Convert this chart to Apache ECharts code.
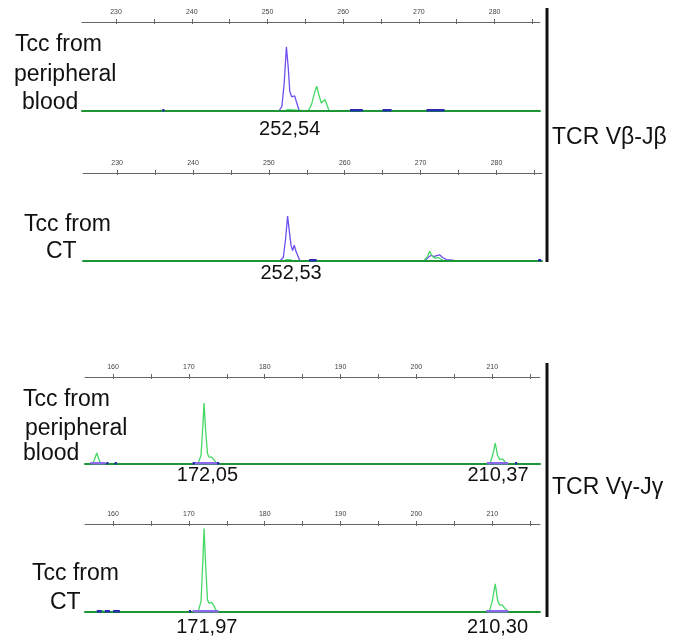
<!DOCTYPE html>
<html><head><meta charset="utf-8">
<script src="https://cdn.jsdelivr.net/npm/echarts@6/dist/echarts.min.js"></script>
<style>html,body{margin:0;padding:0;background:#fff}#c{width:686px;height:642px}</style>
</head><body><div id="c"></div>
<script>
// ---------- axis definitions (fragment size, bp) ----------
const betaRange = [225.5, 286];
const betaTicks = [230, 235, 240, 245, 250, 255, 260, 265, 270, 275, 280, 285];
const betaLabels = [230, 240, 250, 260, 270, 280];
const gammaRange = [156.3, 216.3];
const gammaTicks = [160, 165, 170, 175, 180, 185, 190, 195, 200, 205, 210, 215];
const gammaLabels = [160, 170, 180, 190, 200, 210];

// ---------- traces: [size, relative intensity %] ----------
// Panel 1: TCR Vβ-Jβ, Tcc from peripheral blood
const p1Green = [[252.2,0],[252.4,1.5],[252.7,1.5],[252.9,0],[255.4,0],[255.85,8],[256.2,20],[256.5,28],[256.8,18],[257.1,9],[257.35,10],[257.6,13],[257.85,7],[258.15,0],[271.3,0],[271.6,1.5],[272.0,0]];
const p1Blue = [[251.5,0],[251.9,5],[252.2,30],[252.5,72],[252.75,48],[252.95,22],[253.2,16],[253.4,18],[253.6,17],[253.8,11],[254.2,0]];
const p1Navy = [[236.1,236.4],[260.9,262.6],[265.2,266.4],[271.0,273.4]];
const p1Purple = [];
const p1Peaks = [[252.54, '252,54']];
const p1Text = ['Tcc from', 'peripheral', 'blood'];

// Panel 2: TCR Vβ-Jβ, Tcc from CT
const p2Green = [[252.0,0],[252.3,1.5],[252.8,1.5],[253.2,0],[270.4,0],[270.9,5],[271.2,11],[271.5,6],[271.9,3],[272.3,4],[272.7,2],[273.1,0]];
const p2Blue = [[251.45,0],[251.9,4],[252.2,25],[252.47,51],[252.72,32],[252.92,18],[253.13,12],[253.35,18],[253.57,11],[254.1,0],[270.5,0],[271.0,4],[271.4,6.5],[271.75,5],[272.1,6],[272.5,7],[272.9,4],[273.4,1.5],[274.0,1.2],[274.7,0]];
const p2Navy = [[255.3,256.3],[285.5,285.9]];
const p2Purple = [];
const p2Peaks = [[252.53, '252,53']];
const p2Text = ['Tcc from', 'CT'];

// Panel 3: TCR Vγ-Jγ, Tcc from peripheral blood
const p3Green = [[157.2,0],[157.5,4],[157.85,12.6],[158.1,6],[158.4,0],[171.2,0],[171.6,10],[171.85,45],[172.0,70],[172.2,40],[172.45,12],[172.65,8],[173.0,8],[173.3,5],[173.7,0],[209.7,0],[210.05,10],[210.4,24],[210.7,10],[211.0,5],[211.4,5.5],[211.9,0]];
const p3Blue = [];
const p3Navy = [[159.1,159.4],[160.2,160.5],[170.5,170.8],[173.7,174.0],[213.0,213.3]];
const p3Purple = [[157.0,159.0],[170.6,173.9],[209.3,212.1]];
const p3Peaks = [[172.05, '172,05'], [210.37, '210,37']];
const p3Text = ['Tcc from', 'peripheral', 'blood'];

// Panel 4: TCR Vγ-Jγ, Tcc from CT
const p4Green = [[158.3,0],[158.6,1.5],[158.9,0],[171.2,0],[171.6,12],[171.85,60],[172.0,95],[172.2,55],[172.45,14],[172.65,10],[173.0,11],[173.3,7],[173.7,0],[209.6,0],[210.0,12],[210.4,32],[210.7,14],[210.95,8],[211.3,8],[211.6,5],[212.15,0]];
const p4Blue = [];
const p4Navy = [[157.85,158.5],[158.9,159.6],[160.0,160.9],[170.0,170.3]];
const p4Purple = [[170.5,173.9],[209.2,212.1]];
const p4Peaks = [[171.97, '171,97'], [210.30, '210,30']];
const p4Text = ['Tcc from', 'CT'];

const groupTitles = ['TCR Vβ-Jβ', 'TCR Vγ-Jγ'];

// ---------- layout / style ----------
const FONT = '"Liberation Sans", Arial, sans-serif';
const GREEN = '#45d865', BLUE = '#6e4ef0', NAVY = '#2a2ab0', PURPLE = '#8a6ae8', BASE = '#1f9636';
const layout = [
  {left: 82, top: 22, width: 458, height: 89, peakDy: 18, text: [[15, 45], [14, 75], [22, 103]]},
  {left: 83, top: 173, width: 459, height: 88, peakDy: 12, text: [[24, 225], [46, 252]]},
  {left: 85, top: 377, width: 455, height: 87, peakDy: 11, text: [[23, 400], [25, 429], [23, 454]]},
  {left: 85, top: 524, width: 455, height: 88, peakDy: 15, text: [[32, 574], [50, 603]]}
];
const panels = [
  {range: betaRange, ticks: betaTicks, labels: betaLabels, green: p1Green, blue: p1Blue, navy: p1Navy, purple: p1Purple, peaks: p1Peaks, text: p1Text},
  {range: betaRange, ticks: betaTicks, labels: betaLabels, green: p2Green, blue: p2Blue, navy: p2Navy, purple: p2Purple, peaks: p2Peaks, text: p2Text},
  {range: gammaRange, ticks: gammaTicks, labels: gammaLabels, green: p3Green, blue: p3Blue, navy: p3Navy, purple: p3Purple, peaks: p3Peaks, text: p3Text},
  {range: gammaRange, ticks: gammaTicks, labels: gammaLabels, green: p4Green, blue: p4Blue, navy: p4Navy, purple: p4Purple, peaks: p4Peaks, text: p4Text}
];

const grid = [], xAxis = [], yAxis = [], series = [];
panels.forEach((p, i) => {
  const L = layout[i];
  grid.push({left: L.left, top: L.top, width: L.width, height: L.height});
  // main top axis: line + labels
  xAxis.push({type: 'value', gridIndex: i, position: 'top', min: p.range[0], max: p.range[1],
    splitLine: {show: false},
    axisLine: {show: true, onZero: false, lineStyle: {color: '#666', width: 1}},
    axisTick: {show: false},
    axisLabel: {show: true, customValues: p.labels, fontSize: 7, color: '#444', margin: 6, fontFamily: FONT}});
  // tick axis shifted 2px into the grid so ticks cross the axis line
  xAxis.push({type: 'value', gridIndex: i, position: 'top', offset: -2, min: p.range[0], max: p.range[1],
    splitLine: {show: false}, axisLine: {show: false, onZero: false}, axisLabel: {show: false},
    axisTick: {show: true, length: 5, inside: false, customValues: p.ticks, lineStyle: {color: '#666'}}});
  // baseline axis (bottom), drawn above the traces
  xAxis.push({type: 'value', gridIndex: i, position: 'bottom', min: p.range[0], max: p.range[1], z: 5,
    splitLine: {show: false}, axisTick: {show: false}, axisLabel: {show: false},
    axisLine: {show: true, onZero: false, lineStyle: {color: BASE, width: 2}}});
  yAxis.push({type: 'value', gridIndex: i, min: 0, max: 100, show: false});

  const xi = i * 3;
  if (p.blue.length) series.push({type: 'line', xAxisIndex: xi, yAxisIndex: i, data: p.blue, showSymbol: false, symbol: 'none', z: 3, lineStyle: {color: BLUE, width: 1.3}});
  if (p.green.length) series.push({type: 'line', xAxisIndex: xi, yAxisIndex: i, data: p.green, showSymbol: false, symbol: 'none', z: 3, lineStyle: {color: GREEN, width: 1.3}});
  const seg = (data, color) => ({
    type: 'custom', xAxisIndex: xi, yAxisIndex: i, data: data, z: 10,
    renderItem: (params, api) => {
      const a = api.coord([api.value(0), 0]);
      const b = api.coord([api.value(1), 0]);
      return {type: 'rect', shape: {x: a[0], y: a[1] - 2, width: Math.max(1.5, b[0] - a[0]), height: 2.5}, style: {fill: color}};
    }
  });
  if (p.purple.length) series.push(seg(p.purple, PURPLE));
  if (p.navy.length) series.push(seg(p.navy, NAVY));
});

const chart = echarts.init(document.getElementById('c'), null, {renderer: 'canvas'});
chart.setOption({animation: false, backgroundColor: '#fff', grid, xAxis, yAxis, series});

// ---------- text annotations ----------
const elements = [];
panels.forEach((p, i) => {
  const L = layout[i];
  p.text.forEach((t, k) => {
    elements.push({type: 'text', x: L.text[k][0], y: L.text[k][1],
      style: {text: t, fontSize: 23, fontFamily: FONT, fill: '#111', verticalAlign: 'middle', align: 'left'}});
  });
  const base = chart.convertToPixel({yAxisIndex: i}, 0);
  p.peaks.forEach(pk => {
    const px = chart.convertToPixel({xAxisIndex: i * 3}, pk[0]);
    elements.push({type: 'text', x: px + 3, y: base + L.peakDy,
      style: {text: pk[1], fontSize: 20, fontFamily: FONT, fill: '#111', align: 'center', verticalAlign: 'middle'}});
  });
});
// group brackets and titles
[[8, 262, 138], [363, 617, 488]].forEach((b, g) => {
  elements.push({type: 'line', shape: {x1: 547, y1: b[0], x2: 547, y2: b[1]}, style: {stroke: '#111', lineWidth: 3}});
  elements.push({type: 'text', x: 552, y: b[2],
    style: {text: groupTitles[g], fontSize: 23, fontFamily: FONT, fill: '#111', verticalAlign: 'middle', align: 'left'}});
});
chart.setOption({graphic: {elements}});
</script>
</body></html>
